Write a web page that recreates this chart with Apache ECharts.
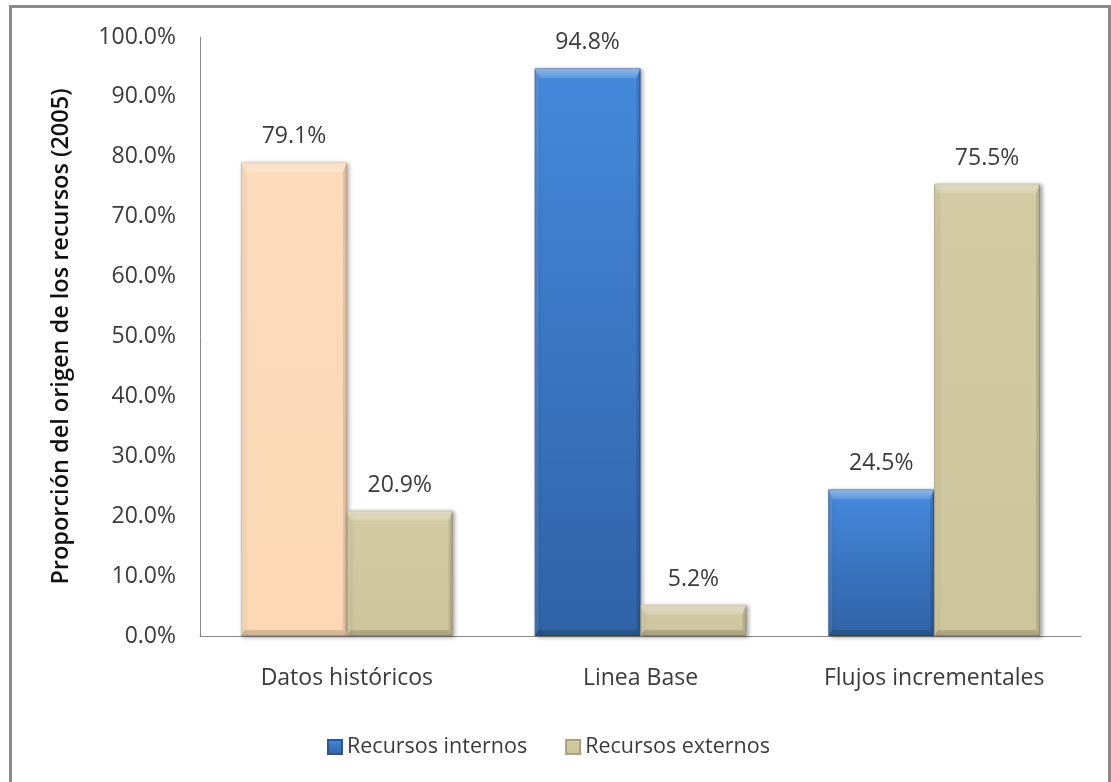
<!DOCTYPE html>
<html>
<head>
<meta charset="utf-8">
<script src="https://cdn.jsdelivr.net/npm/echarts@6/dist/echarts.min.js"></script>
<style>
  html, body { margin: 0; padding: 0; background: #ffffff; overflow: hidden; }
  #frame {
    position: absolute; left: 9px; top: 5px; width: 1102px; height: 800px;
    border: 3px solid #8a8a8a; border-bottom: none; box-sizing: border-box;
  }
  #chart { position: absolute; left: 0; top: 0; width: 1111px; height: 782px; }
</style>
</head>
<body>
<div id="frame"></div>
<div id="chart"></div>
<script>
// Origen de los recursos por método de estimación (2005)
const categories = ['Datos históricos', 'Linea Base', 'Flujos incrementales'];
const internos = [79.1, 94.8, 24.5];
const externos = [20.9, 5.2, 75.5];
const yTicks = [0, 10, 20, 30, 40, 50, 60, 70, 80, 90, 100];

const FONT = '"Open Sans", "Noto Sans", sans-serif';
const TEXT = '#3b3b3b';
const CATEGORY_GAP = 0.279;

const blue = new echarts.graphic.LinearGradient(0, 0, 0, 1, [
  { offset: 0, color: '#4589dc' },
  { offset: 1, color: '#3062a6' }
]);
const peach = new echarts.graphic.LinearGradient(0, 0, 0, 1, [
  { offset: 0, color: '#fddcbc' },
  { offset: 1, color: '#fcd8b5' }
]);
const khaki = new echarts.graphic.LinearGradient(0, 0, 0, 1, [
  { offset: 0, color: '#d2cba4' },
  { offset: 1, color: '#cdc59c' }
]);

const barShadow = {
  shadowColor: 'rgba(0,0,0,0.35)', shadowBlur: 4, shadowOffsetX: 2, shadowOffsetY: 1
};

const labelStyle = {
  show: true, position: 'top', distance: 14,
  fontFamily: FONT, fontSize: 23, color: TEXT,
  formatter: p => p.value.toFixed(1) + '%'
};

// The first internal bar is drawn in peach, the rest in blue
const internosData = internos.map((v, i) => i === 0
  ? { value: v, itemStyle: { color: peach, borderColor: '#d9b08e' } }
  : v);

// Bevelled edges laid over each bar (side 0 = left bar of the pair, 1 = right bar)
function bevel(side) {
  return function (params, api) {
    const xi = api.value(0), v = api.value(1);
    const topPt = api.coord([xi, v]);
    const basePt = api.coord([xi, 0]);
    const band = api.size([1, 0])[0];
    const bw = band * (1 - CATEGORY_GAP) / 2;
    const x0 = side === 0 ? topPt[0] - bw : topPt[0];
    const x1 = x0 + bw;
    const t = topPt[1], b = basePt[1];
    const h = b - t;
    const bt = Math.min(10, h / 3), bs = Math.min(4, h / 4), bb = Math.min(6, h / 4);
    const poly = (pts, fill) => ({ type: 'polygon', shape: { points: pts }, style: { fill: fill }, silent: true });
    return {
      type: 'group',
      children: [
        poly([[x0, t], [x1, t], [x1 - bs, t + bt], [x0 + bs, t + bt]],
          new echarts.graphic.LinearGradient(0, 0, 0, 1, [
            { offset: 0, color: 'rgba(255,255,255,0.45)' },
            { offset: 1, color: 'rgba(255,255,255,0.12)' }
          ])),
        poly([[x0, t], [x0 + bs, t + bt], [x0 + bs, b - bb], [x0, b]], 'rgba(255,255,255,0.10)'),
        poly([[x1, t], [x1, b], [x1 - bs, b - bb], [x1 - bs, t + bt]], 'rgba(0,0,0,0.10)'),
        poly([[x0, b], [x0 + bs, b - bb], [x1 - bs, b - bb], [x1, b]], 'rgba(0,0,0,0.14)')
      ]
    };
  };
}

const chart = echarts.init(document.getElementById('chart'), null, { renderer: 'canvas' });
chart.setOption({
  animation: false,
  backgroundColor: 'transparent',
  grid: { left: 200, top: 37, width: 881, height: 599, containLabel: false },
  legend: {
    left: 322, top: 731,
    itemWidth: 14, itemHeight: 14, itemGap: 38,
    icon: 'rect',
    textStyle: { fontFamily: FONT, fontSize: 21.5, color: TEXT },
    data: [
      { name: 'Recursos internos', itemStyle: { color: blue } },
      { name: 'Recursos externos', itemStyle: { color: khaki } }
    ]
  },
  xAxis: {
    type: 'category',
    data: categories,
    axisLine: { lineStyle: { color: '#878787', width: 1 } },
    axisTick: { show: false },
    axisLabel: { fontFamily: FONT, fontSize: 23, color: TEXT, margin: 31 }
  },
  yAxis: {
    type: 'value',
    min: yTicks[0], max: yTicks[yTicks.length - 1], interval: 10,
    name: 'Proporción del origen de los recursos (2005)',
    nameLocation: 'middle', nameGap: 127, nameRotate: 90,
    nameTextStyle: { fontFamily: FONT, fontSize: 23.5, fontWeight: 600, color: '#111' },
    axisLine: { show: true, lineStyle: { color: '#878787', width: 1 } },
    axisTick: { show: false },
    splitLine: { show: false },
    axisLabel: {
      fontFamily: FONT, fontSize: 23, color: TEXT, margin: 24,
      formatter: v => v.toFixed(1) + '%'
    }
  },
  series: [
    {
      name: 'Recursos internos', type: 'bar',
      data: internosData,
      barGap: '0%', barCategoryGap: (CATEGORY_GAP * 100) + '%',
      itemStyle: Object.assign({ color: blue, borderColor: '#2b5690', borderWidth: 1 }, barShadow),
      label: labelStyle
    },
    {
      name: 'Recursos externos', type: 'bar',
      data: externos,
      itemStyle: Object.assign({ color: khaki, borderColor: '#a9a27c', borderWidth: 1 }, barShadow),
      label: labelStyle
    },
    {
      name: 'bisel-internos', type: 'custom', silent: true, z: 3,
      renderItem: bevel(0),
      data: internos.map((v, i) => [i, v])
    },
    {
      name: 'bisel-externos', type: 'custom', silent: true, z: 3,
      renderItem: bevel(1),
      data: externos.map((v, i) => [i, v])
    }
  ]
});
</script>
</body>
</html>
